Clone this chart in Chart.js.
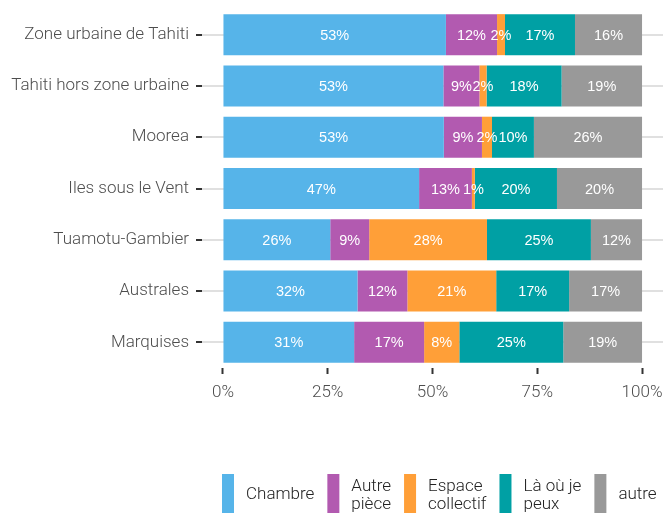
<!DOCTYPE html>
<html>
<head>
<meta charset="utf-8">
<script src="https://cdn.jsdelivr.net/npm/chart.js@4"></script>
<style>
  html, body { margin: 0; padding: 0; background: #fff; }
  #wrap { width: 664px; height: 513px; }
</style>
</head>
<body>
<div id="wrap"><canvas id="bar-chart"></canvas></div>
<script>
const categories = [
  "Zone urbaine de Tahiti",
  "Tahiti hors zone urbaine",
  "Moorea",
  "Iles sous le Vent",
  "Tuamotu-Gambier",
  "Australes",
  "Marquises",
];

const seriesNames = ["Chambre", "Autre pièce", "Espace collectif", "Là où je peux", "autre"];
const legendLines = [["Chambre"], ["Autre", "pièce"], ["Espace", "collectif"], ["Là où je", "peux"], ["autre"]];
const colors = ["#56b4e9", "#b25ab0", "#ff9f38", "#00a0a4", "#999999"];

const chambre = [53.2, 52.6, 52.7, 46.8, 25.6, 32.1, 31.3];
const autrePiece = [12.2, 8.6, 9.1, 12.6, 9.3, 11.9, 16.7];
const espaceCollectif = [1.9, 1.7, 2.4, 0.7, 28.1, 21.2, 8.4];
const laOuJePeux = [16.7, 17.9, 10.0, 19.6, 24.8, 17.4, 24.8];
const autre = [16.0, 19.2, 25.8, 20.3, 12.2, 17.4, 18.8];

const xTicks = [0, 25, 50, 75, 100];

const seriesValues = [chambre, autrePiece, espaceCollectif, laOuJePeux, autre];

// white percentage labels in the middle of each segment
const barLabels = {
  id: "barLabels",
  afterDatasetsDraw(chart) {
    const ctx = chart.ctx;
    ctx.save();
    ctx.font = "14.5px 'Liberation Sans'";
    ctx.fillStyle = "#ffffff";
    ctx.textAlign = "center";
    ctx.textBaseline = "middle";
    chart.data.datasets.forEach((ds, i) => {
      chart.getDatasetMeta(i).data.forEach((bar, j) => {
        const c = bar.getCenterPoint();
        ctx.fillText(Math.round(ds.data[j]) + "%", c.x, c.y + 1);
      });
    });
    ctx.restore();
  },
};

// ggplot style legend under the plot, with two-line labels
const bottomLegend = {
  id: "bottomLegend",
  afterDraw(chart) {
    const ctx = chart.ctx;
    ctx.save();
    ctx.font = "300 17px Roboto";
    ctx.textBaseline = "middle";
    ctx.textAlign = "left";
    let x = 222;
    legendLines.forEach((lines, i) => {
      const w = Math.max(...lines.map((t) => ctx.measureText(t).width));
      ctx.fillStyle = colors[i];
      ctx.fillRect(x, 474, 12, 40);
      ctx.fillStyle = "#222222";
      if (lines.length === 1) {
        ctx.fillText(lines[0], x + 24, 495);
      } else {
        ctx.fillText(lines[0], x + 24, 487);
        ctx.fillText(lines[1], x + 24, 505);
      }
      x += 12 + 12 + w + 13;
    });
    ctx.restore();
  },
};

const myChart = new Chart("bar-chart", {
  type: "bar",
  data: {
    labels: categories,
    datasets: seriesNames.map((name, i) => ({
      label: name,
      data: seriesValues[i],
      backgroundColor: colors[i],
      borderWidth: 0,
      categoryPercentage: 0.8,
      barPercentage: 1,
    })),
  },
  options: {
    indexAxis: "y",
    responsive: true,
    maintainAspectRatio: false,
    animation: false,
    layout: {
      padding: { top: 9, right: 1, left: 0, bottom: 0 },
    },
    scales: {
      x: {
        stacked: true,
        min: -5,
        max: 105,
        afterBuildTicks: (scale) => {
          scale.ticks = xTicks.map((v) => ({ value: v }));
        },
        afterFit: (scale) => {
          scale.height = 145;
          scale.paddingLeft = 0;
          scale.paddingRight = 0;
        },
        border: { display: false },
        grid: {
          drawOnChartArea: false,
          drawTicks: true,
          tickLength: 6,
          tickWidth: 2,
          tickColor: "#333333",
        },
        ticks: {
          padding: 9,
          color: "#4d4d4d",
          font: { family: "Roboto", weight: "300", size: 17 },
          callback: (v) => v + "%",
        },
      },
      y: {
        stacked: true,
        afterFit: (scale) => {
          scale.width = 202;
          scale.paddingTop = 0;
          scale.paddingBottom = 0;
        },
        border: { display: false },
        grid: {
          offset: false,
          color: "#e0e0e0",
          lineWidth: 2,
          tickLength: 6,
          tickWidth: 2,
          tickColor: "#333333",
        },
        ticks: {
          padding: 7,
          color: "#4d4d4d",
          font: { family: "Roboto", weight: "300", size: 17 },
        },
      },
    },
    plugins: {
      legend: { display: false },
      tooltip: { enabled: false },
    },
  },
  plugins: [barLabels, bottomLegend],
});
</script>
</body>
</html>
